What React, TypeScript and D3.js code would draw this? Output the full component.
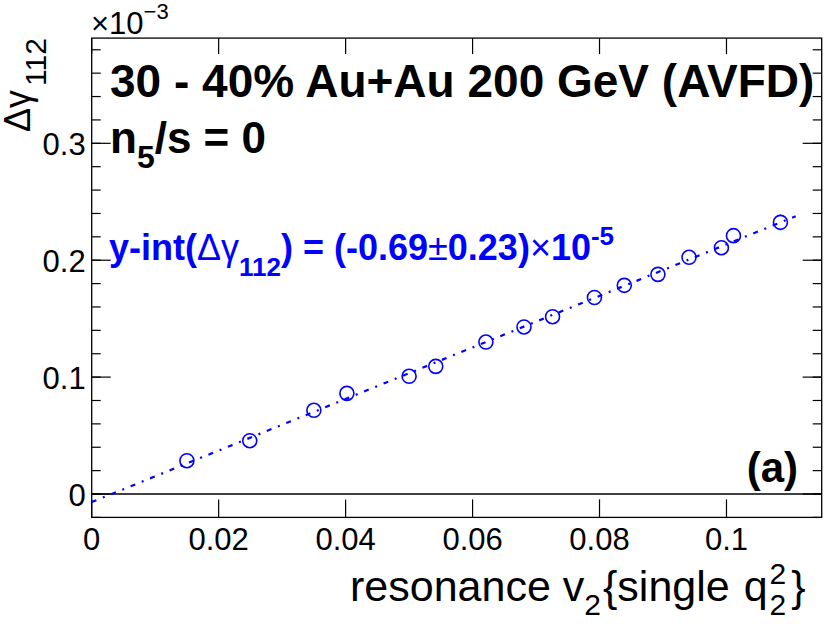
import React from "react";
import * as d3 from "d3";

// ---- data (Δγ112 in units of 1e-3) ----
const v2 = [0.0150, 0.0249, 0.0350, 0.0402, 0.0500, 0.0542, 0.0621, 0.0681, 0.0726, 0.0792, 0.0839, 0.0892, 0.0941, 0.0992, 0.1011, 0.1085];
const dGamma = [0.0285, 0.0456, 0.0716, 0.0861, 0.1007, 0.1092, 0.1300, 0.1429, 0.1517, 0.1681, 0.1785, 0.1879, 0.2025, 0.2107, 0.2210, 0.2324];
const dGammaErr = [0.003, 0.003, 0.003, 0.003, 0.003, 0.003, 0.0035, 0.004, 0.004, 0.0045, 0.005, 0.0055, 0.006, 0.0062, 0.0062, 0.0067];
const fitIntercept = -0.0069;
const fitSlope = 2.205;
const fitRange = [0, 0.1109];

const xTicks = [0, 0.02, 0.04, 0.06, 0.08, 0.1];
const xTickLabels = ["0", "0.02", "0.04", "0.06", "0.08", "0.1"];
const yMajor = [0, 0.1, 0.2, 0.3];
const yMajorLabels = ["0", "0.1", "0.2", "0.3"];
const yMinor = d3.range(-0.02, 0.381, 0.02);

const W = 830, H = 624;
const L = 91.7, R = 821.7, T = 38.1, B = 517.4;
const FONT = "'Liberation Sans', Arial, Helvetica, sans-serif";
const BLUE = "#0000ff";

export default function App() {
  const x = d3.scaleLinear().domain([0, 0.115]).range([L, R]);
  const y = d3.scaleLinear().domain([-0.02, 0.39]).range([B, T]);
  const r = 7;

  const fitLine = d3.line<number>()
    .x((d) => x(d))
    .y((d) => y(fitIntercept + fitSlope * d))(fitRange);

  return (
    <svg width={W} height={H} style={{ position: "absolute", left: 0, top: 0, background: "#fff" }} fontFamily={FONT}>
      <rect x={0} y={0} width={W} height={H} fill="#fff" />
      {/* zero line */}
      <line x1={L} x2={R} y1={y(0)} y2={y(0)} stroke="#000" strokeWidth={1.3} />
      {/* y ticks */}
      {yMinor.map((v, i) => (
        <g key={"ym" + i}>
          <line x1={L} x2={L + 9} y1={y(v)} y2={y(v)} stroke="#000" strokeWidth={1.2} />
          <line x1={R} x2={R - 9} y1={y(v)} y2={y(v)} stroke="#000" strokeWidth={1.2} />
        </g>
      ))}
      {yMajor.map((v, i) => (
        <g key={"yM" + i}>
          <line x1={L} x2={L + 19} y1={y(v)} y2={y(v)} stroke="#000" strokeWidth={1.2} />
          <line x1={R} x2={R - 19} y1={y(v)} y2={y(v)} stroke="#000" strokeWidth={1.2} />
          <text x={L - 6} y={y(v) + 12} fontSize={31} textAnchor="end">{yMajorLabels[i]}</text>
        </g>
      ))}
      {/* x ticks */}
      {xTicks.map((v, i) => (
        <g key={"x" + i}>
          <line x1={x(v)} x2={x(v)} y1={B} y2={B - 18} stroke="#000" strokeWidth={1.2} />
          <line x1={x(v)} x2={x(v)} y1={T} y2={T + 16} stroke="#000" strokeWidth={1.2} />
          <text x={x(v)} y={550} fontSize={31} textAnchor="middle">{xTickLabels[i]}</text>
        </g>
      ))}
      {/* frame */}
      <rect x={L} y={T} width={R - L} height={B - T} fill="none" stroke="#000" strokeWidth={1.3} />

      {/* fit line */}
      <path d={fitLine || ""} fill="none" stroke={BLUE} strokeWidth={2.2} strokeDasharray="5 7 2 7" />

      {/* points */}
      {v2.map((v, i) => {
        const cx = x(v), cy = y(dGamma[i]);
        const e = y(dGamma[i]) - y(dGamma[i] + dGammaErr[i]);
        return (
          <g key={"p" + i}>
            {e > r && (
              <>
                <line x1={cx} x2={cx} y1={cy - r} y2={cy - e} stroke={BLUE} strokeWidth={1.5} />
                <line x1={cx} x2={cx} y1={cy + r} y2={cy + e} stroke={BLUE} strokeWidth={1.5} />
              </>
            )}
            <circle cx={cx} cy={cy} r={r} fill="none" stroke={BLUE} strokeWidth={1.6} />
          </g>
        );
      })}

      {/* texts */}
      <text x={110} y={97} fontSize={46} fontWeight="bold">30 - 40% Au+Au 200 GeV (AVFD)</text>
      <text x={110} y={153} fontSize={44} fontWeight="bold">
        n<tspan fontSize={32} dy={15}>5</tspan><tspan dy={-15}>/s = 0</tspan>
      </text>
      <text x={109} y={260} fontSize={36} fontWeight="bold" fill={BLUE}>
        y-int(<tspan fontWeight="normal">Δγ</tspan><tspan fontSize={26} dy={16}>112</tspan><tspan dy={-16}>) = (-0.69</tspan><tspan fontWeight="normal">±</tspan>0.23)<tspan fontWeight="normal">×</tspan>10<tspan fontSize={26} dy={-15}>-5</tspan>
      </text>
      <text x={798} y={482} fontSize={42} fontWeight="bold" textAnchor="end">(a)</text>

      {/* axis titles */}
      <text x={91} y={34} fontSize={31}>
        ×10<tspan fontSize={22} dy={-15}>−3</tspan>
      </text>
      <text transform={`translate(30, ${T}) rotate(-90)`} fontSize={36} textAnchor="end">
        Δγ<tspan fontSize={30} dx={4} dy={16}>112</tspan>
      </text>
      <text x={350} y={601} fontSize={43}>
        resonance v<tspan fontSize={30} dy={14}>2</tspan><tspan dx={2} dy={-14}>{"{"}single</tspan><tspan dx={14}>q</tspan><tspan fontSize={30} dx={2} dy={-17}>2</tspan><tspan fontSize={30} dx={-16.7} dy={31}>2</tspan><tspan dx={5} dy={-14}>{"}"}</tspan>
      </text>
    </svg>
  );
}
